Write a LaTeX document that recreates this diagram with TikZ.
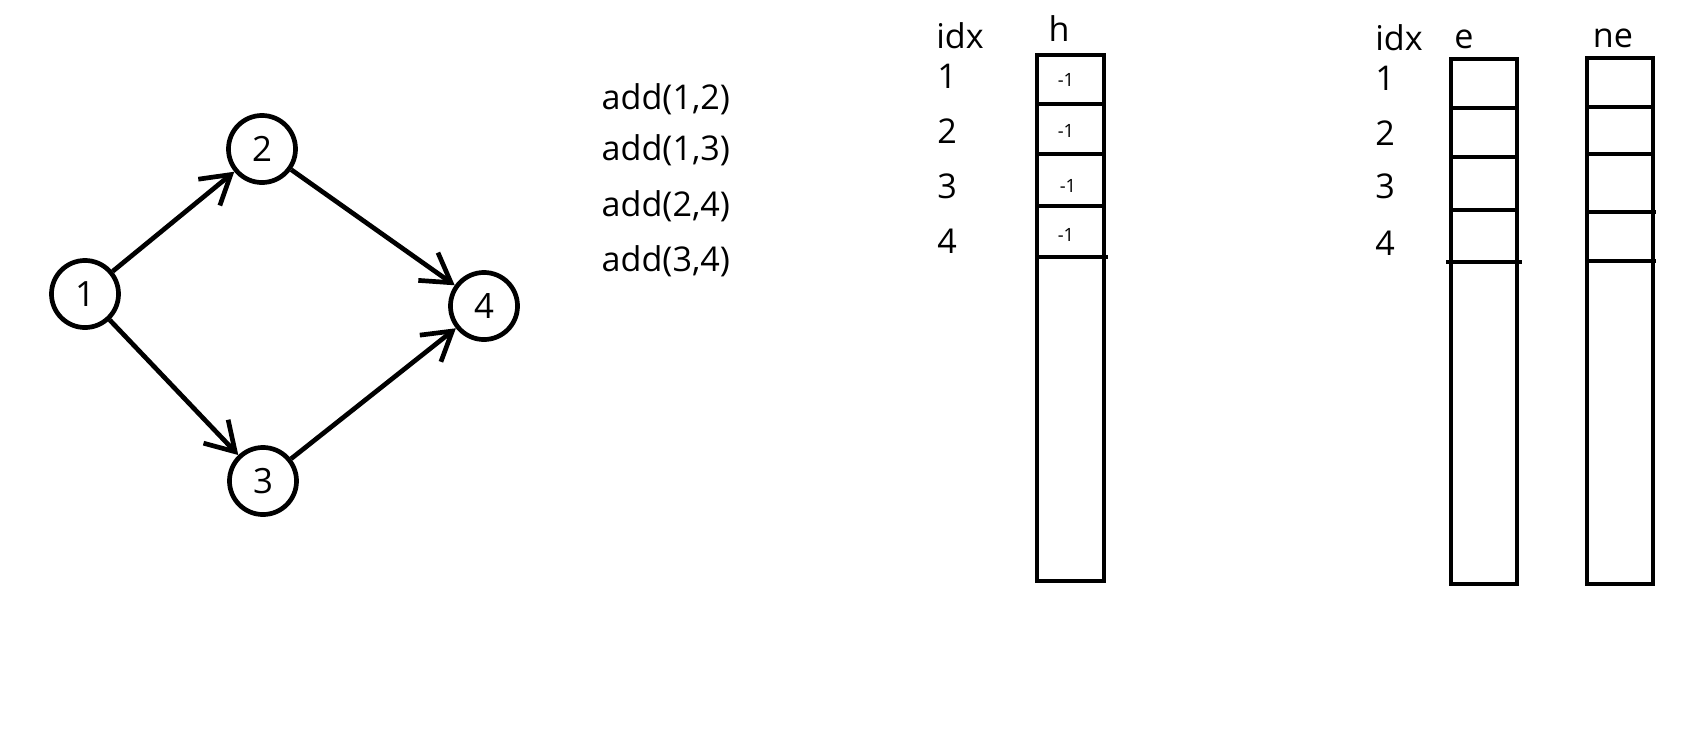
\documentclass[tikz,border=0pt]{standalone}
\usepackage{fontspec}
\setmainfont{Open Sans}
\usetikzlibrary{arrows.meta}

% array columns (px units)
\def\hl{1037}
\def\hr{1104}
\def\htop{55}
\def\hbot{581}
\def\el{1451}
\def\er{1517}
\def\etop{59}
\def\ebot{584}
\def\nel{1587}
\def\ner{1653}
\def\netop{58}
\def\nebot{584}

\tikzset{
  vertex/.style={circle, draw, line width=0.047cm, minimum size=0.67cm, inner sep=0pt,
    font=\fontsize{9.9pt}{11pt}\selectfont},
  edge/.style={line width=0.047cm, -{Straight Barb[length=0.28cm,width=0.34cm]}},
  lbl/.style={inner sep=0pt, anchor=base, font=\fontsize{9.7pt}{11pt}\selectfont},
  cell/.style={inner sep=0pt, anchor=base, font=\fontsize{5.2pt}{6pt}\selectfont},
  arr/.style={draw=black, line width=0.047cm},
}

\begin{document}
\begin{tikzpicture}[x=0.01cm, y=-0.01cm]
        \useasboundingbox (0,0) rectangle (1693,733);

        % graph
        \node[vertex] (v1) at (85,294) {1};
        \node[vertex] (v2) at (262,149) {2};
        \node[vertex] (v3) at (263,481) {3};
        \node[vertex] (v4) at (484,306) {4};
        \draw[edge] (v1) -- (v2);
        \draw[edge] (v1) -- (v3);
        \draw[edge] (v2) -- (v4);
        \draw[edge] (v3) -- (v4);

        % add calls
        \node[lbl, anchor=base west] (add12) at (601,109) {add(1,2)};
        \node[lbl, anchor=base west] (add13) at (601,160) {add(1,3)};
        \node[lbl, anchor=base west] (add24) at (601,216) {add(2,4)};
        \node[lbl, anchor=base west] (add34) at (601,271) {add(3,4)};

        % h array
        \node[lbl] (hidx) at (960,48) {idx};
        \node[lbl] (hname) at (1059,41) {h};
        \node[lbl] (hi1) at (947,88) {1};
        \node[lbl] (hi2) at (947,143) {2};
        \node[lbl] (hi3) at (947,198) {3};
        \node[lbl] (hi4) at (947,253) {4};
        \draw [arr] (\hl,\htop) rectangle (\hr,\hbot);
        \draw [arr] (\hl,104) -- (\hr,104);
        \draw [arr] (\hl,154) -- (\hr,154);
        \draw [arr] (\hl,206) -- (\hr,206);
        \draw [arr] (\hl,257) -- (1108,257);
        \node[cell] (h1) at (1066,86) {-1};
        \node[cell] (h2) at (1066,137) {-1};
        \node[cell] (h3) at (1068,192) {-1};
        \node[cell] (h4) at (1066,241) {-1};

        % e and ne arrays
        \node[lbl] (eidx) at (1399,50) {idx};
        \node[lbl] (ename) at (1464,48) {e};
        \node[lbl] (nename) at (1613,47) {ne};
        \node[lbl] (ei1) at (1385,90) {1};
        \node[lbl] (ei2) at (1385,145) {2};
        \node[lbl] (ei3) at (1385,198) {3};
        \node[lbl] (ei4) at (1385,255) {4};
        \draw [arr] (\el,\etop) rectangle (\er,\ebot);
        \draw [arr] (\el,108) -- (\er,108);
        \draw [arr] (\el,157) -- (\er,157);
        \draw [arr] (\el,210) -- (\er,210);
        \draw [arr] (1446,262) -- (1522,262);
        \draw [arr] (\nel,\netop) rectangle (\ner,\nebot);
        \draw [arr] (\nel,107) -- (\ner,107);
        \draw [arr] (\nel,154) -- (\ner,154);
        \draw [arr] (\nel,212) -- (1656,212);
        \draw [arr] (\nel,261) -- (1656,261);
    \end{tikzpicture}
\end{document}
